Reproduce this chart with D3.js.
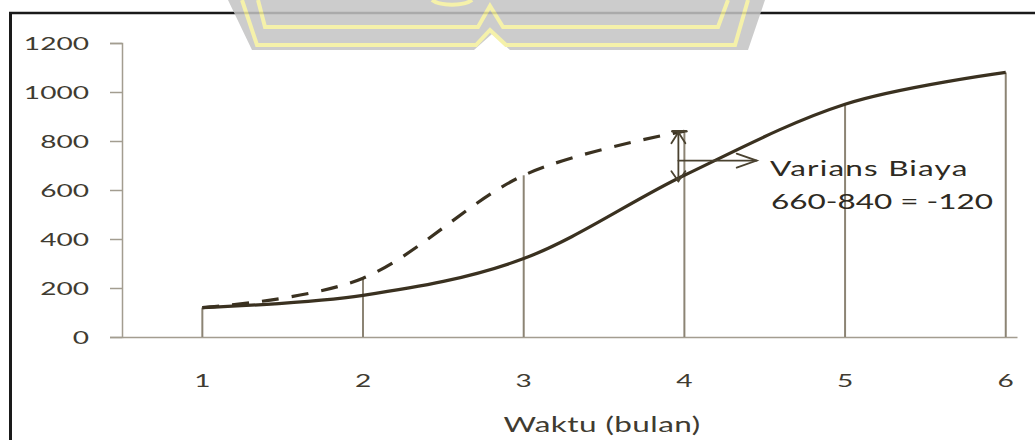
<!DOCTYPE html>
<html>
<head>
<meta charset="utf-8">
<script src="https://cdn.jsdelivr.net/npm/d3@7"></script>
<style>
  html, body { margin: 0; padding: 0; background: #fff; }
  svg { display: block; }
  text { font-family: Lato, "Open Sans", sans-serif; fill: #403b31; }
</style>
</head>
<body>
<svg id="chart" width="1035" height="440"></svg>
<script>
// Months on the x axis
const months = [1, 2, 3, 4, 5, 6];
// Actual cost curve (solid)
const actualCost = [120, 170, 320, 660, 950, 1080];
// Budgeted cost curve up to month 4 (dashed)
const plannedCost = [120, 240, 660, 840];
// Y axis tick labels
const yTicks = [0, 200, 400, 600, 800, 1000, 1200];
// Cost-variance callout
const varianceMonth = 4;
const varianceLines = ["Varians Biaya", "660-840 = -120"];

const svg = d3.select("#chart");
const W = 1035, H = 440;

const x = d3.scaleLinear().domain([0.5, 6.07]).range([122, 1017]);
const y = d3.scaleLinear().domain([0, 1200]).range([337, 43]);

const ink = "#3a3120";
const axisColor = "#a39d90";
const dropColor = "#8c8474";

// Labels are drawn with a horizontal stretch
function stretchedText(g, px, py, str, size, anchor, sx) {
  return g.append("text")
    .attr("transform", `translate(${px},${py}) scale(${sx || 1.5},1)`)
    .attr("text-anchor", anchor || "start")
    .style("font-size", size + "px")
    .text(str);
}

// Frame
svg.append("line").attr("x1", 10.5).attr("x2", 10.5).attr("y1", 12).attr("y2", H)
  .attr("stroke", "#1a1a1a").attr("stroke-width", 3);
svg.append("line").attr("x1", 9).attr("x2", W).attr("y1", 13).attr("y2", 13)
  .attr("stroke", "#1a1a1a").attr("stroke-width", 2.5);

// Y axis
const yAxis = d3.axisLeft(y).tickValues(yTicks).tickSize(12).tickFormat("");
const gy = svg.append("g").attr("transform", `translate(${x(0.5)},0)`).call(yAxis);
gy.select(".domain").attr("stroke", axisColor).attr("stroke-width", 1.5);
gy.selectAll(".tick line").attr("stroke", axisColor).attr("stroke-width", 1.5);
yTicks.forEach(v => stretchedText(svg, 89, y(v) + 6.5, String(v), 18, "end", 1.56));

// X axis baseline and month labels
const xAxis = d3.axisBottom(x).tickValues(months).tickSize(0).tickFormat("");
const gx = svg.append("g").attr("transform", `translate(0,${y(0)})`).call(xAxis);
gx.select(".domain").attr("stroke", axisColor).attr("stroke-width", 1.5);
months.forEach(m => stretchedText(svg, x(m), 387, String(m), 18, "middle", 1.56));
stretchedText(svg, 602, 432, "Waktu (bulan)", 21, "middle", 1.5)
  .style("letter-spacing", "0.3px");

// Drop lines from the highest value of each month to the axis
months.forEach((m, i) => {
  const top = Math.max(actualCost[i], i < plannedCost.length ? plannedCost[i] : -Infinity);
  svg.append("line")
    .attr("x1", x(m)).attr("x2", x(m))
    .attr("y1", y(0)).attr("y2", y(top))
    .attr("stroke", dropColor).attr("stroke-width", 2);
});

const line = d3.line()
  .x(d => x(d[0])).y(d => y(d[1]))
  .curve(d3.curveCardinal.tension(0));

// Planned (dashed)
svg.append("path")
  .datum(plannedCost.map((v, i) => [months[i], v]))
  .attr("d", line)
  .attr("fill", "none").attr("stroke", ink).attr("stroke-width", 3.2)
  .attr("stroke-dasharray", "17,13");

// Actual (solid)
svg.append("path")
  .datum(actualCost.map((v, i) => [months[i], v]))
  .attr("d", line)
  .attr("fill", "none").attr("stroke", ink).attr("stroke-width", 3.2);

// Variance callout: double arrow between the two curves and a pointer arrow
const ax = x(varianceMonth) - 6;
const yTop = y(plannedCost[varianceMonth - 1]);
const yBot = y(actualCost[varianceMonth - 1]) + 6;
const callout = svg.append("g").attr("stroke", "#4a4230").attr("fill", "none")
  .attr("stroke-width", 1.8).attr("stroke-linecap", "round");
callout.append("line").attr("x1", ax).attr("x2", ax).attr("y1", yTop).attr("y2", yBot);
callout.append("line").attr("x1", ax - 6).attr("x2", ax + 8).attr("y1", yTop).attr("y2", yTop)
  .attr("stroke-width", 2.5);
callout.append("path").attr("d", `M${ax - 7},${yTop + 12} L${ax},${yTop + 1} L${ax + 7},${yTop + 12}`);
callout.append("path").attr("d", `M${ax - 7},${yBot - 10} L${ax},${yBot} L${ax + 7},${yBot - 10}`);
const hy = y(720);
const hx2 = x(4.45);
callout.append("line").attr("x1", ax).attr("x2", hx2).attr("y1", hy).attr("y2", hy);
callout.append("path").attr("d", `M${hx2 - 20},${hy - 7} L${hx2},${hy} L${hx2 - 20},${hy + 7}`);

stretchedText(svg, 770, 176, varianceLines[0], 21, "start", 1.5)
  .style("fill", "#2e2a22").style("letter-spacing", "0.8px");
stretchedText(svg, 771, 209, varianceLines[1], 21, "start", 1.5)
  .style("fill", "#2e2a22");

// Watermark emblem across the top edge
const wm = svg.append("g").attr("opacity", 0.85);
wm.append("path")
  .attr("d", "M228,0 L765,0 L748,50 L510,50 L492,34 L474,50 L252,50 Z")
  .attr("fill", "#c4c4c4");
const yellow = "#f4ef9c";
wm.append("path")
  .attr("d", "M242,0 L257,45 L476,45 L490,30 L506,45 L735,45 L748,0")
  .attr("fill", "none").attr("stroke", yellow).attr("stroke-width", 4);
wm.append("path")
  .attr("d", "M258,0 L265,27 L478,27 L490,6 L503,27 L718,27 L728,0")
  .attr("fill", "none").attr("stroke", yellow).attr("stroke-width", 4);
wm.append("path")
  .attr("d", "M432,0 A22,8 0 0 0 472,0")
  .attr("fill", "none").attr("stroke", yellow).attr("stroke-width", 4);
</script>
</body>
</html>
